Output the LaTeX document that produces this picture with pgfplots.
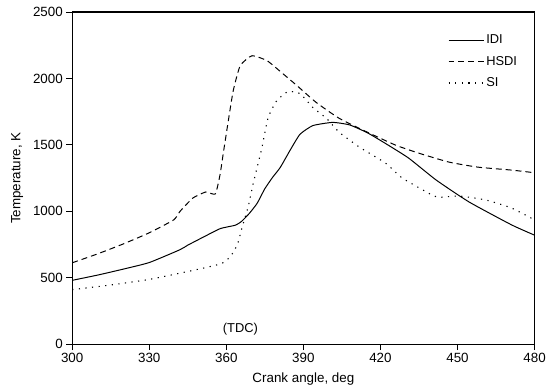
\documentclass[border=0pt]{standalone}
\usepackage{pgfplots}
\pgfplotsset{compat=1.18}
\usepackage{fontspec}
\setmainfont{Liberation Sans}
\begin{document}
\begin{tikzpicture}
\begin{axis}[
  scale only axis,
  width=465bp, height=334bp,
  xmin=300, xmax=480, ymin=0, ymax=2500,
  xtick={300,330,...,480}, ytick={0,500,...,2500},
  tick align=outside, tick pos=left,
  major tick length=6bp,
  axis line style={line width=1.2pt},
  every tick/.style={black, line width=1pt},
  /pgf/number format/assume math mode=true,
  /pgf/number format/1000 sep={},
  tick label style={font=\fontsize{13.5}{15}\selectfont},
  label style={font=\fontsize{13.5}{15}\selectfont},
  xlabel={Crank angle, deg},
  ylabel={Temperature, K},
  xlabel style={yshift=-3pt},
  ylabel style={yshift=3pt},
  legend style={draw=none, fill=none, at={(0.969,0.94)}, anchor=north east, font=\fontsize{13}{15}\selectfont, row sep=7pt, inner sep=1pt},
  legend cell align=left,
  legend image code/.code={\draw[#1] (0cm,0cm) -- (1.25cm,0cm);},
]
\addplot[black, line width=1pt, smooth, tension=0.3] coordinates {
(300,480) (310,520) (320,565) (330,614) (342,711) (345,745) (352,815) (357.7,870) (363.5,895) (366,925) (369,985) (372,1060) (375,1170) (378,1255) (381,1330) (385,1465) (388.7,1580) (393.7,1645) (401.4,1669) (408,1650) (415,1590) (422,1510) (431,1400) (441.7,1235) (454.5,1070) (471,898) (480,820)
};
\addlegendentry{IDI}
\addplot[black, line width=1pt, dash pattern=on 6pt off 4pt, smooth, tension=0.3] coordinates {
(300,612) (310,680) (320,755) (330,838) (339.5,935) (342,1000) (347,1100) (352,1145) (355.7,1130) (357.5,1270) (359,1460) (360.8,1684) (362.7,1909) (365.4,2096) (370,2171) (375.9,2133) (382,2036) (387.5,1946) (395,1819) (404,1699) (415.8,1587) (426,1497) (435,1437) (446.7,1370) (458,1332) (471,1310) (480,1290)
};
\addlegendentry{HSDI}
\addplot[black, line width=1.1pt, dash pattern=on 1.2pt off 5.5pt, smooth, tension=0.3] coordinates {
(300,410) (315,445) (330,487) (343.4,540) (353.8,584) (358.5,610) (361.6,659) (364.3,749) (366.2,883) (368.5,1033) (370.5,1212) (372.4,1362) (373.9,1482) (376.3,1707) (379.7,1834) (384,1901) (388.7,1886) (393.7,1781) (399,1699) (404,1594) (411.9,1482) (422,1362) (428.5,1250) (440,1123) (443,1105) (450.6,1115) (461,1085) (471,1025) (480,935)
};
\addlegendentry{SI}
\node[font=\fontsize{13}{15}\selectfont] at (axis cs:365.5,115) {(TDC)};
\end{axis}
\path (current bounding box.south west) ++(-8bp,0pt);
\path (current bounding box.north east) ++(0pt,4bp);
\end{tikzpicture}
\end{document}
